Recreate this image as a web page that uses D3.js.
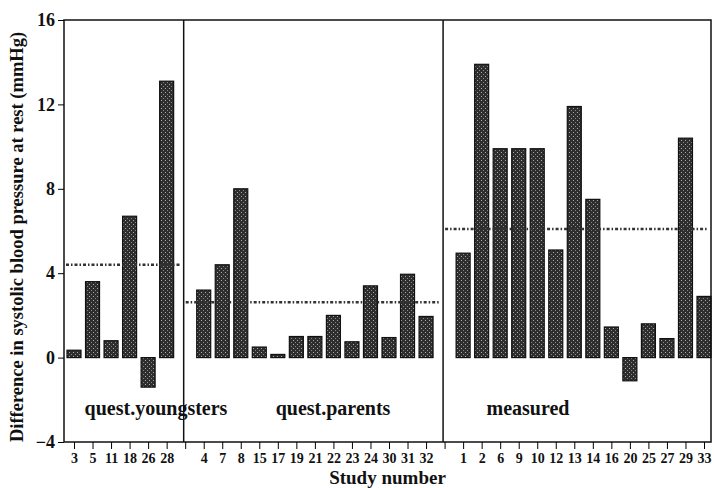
<!DOCTYPE html>
<html>
<head>
<meta charset="utf-8">
<script src="https://cdn.jsdelivr.net/npm/d3@7"></script>
<style>
  body { margin: 0; background: #fff; }
  svg text { font-family: "Liberation Serif", "DejaVu Serif", serif; font-weight: bold; fill: #111; }
</style>
</head>
<body>
<script>
// study numbers and differences, per group
var youngStudies = ["3", "5", "11", "18", "26", "28"];
var youngValues = [0.35, 3.6, 0.8, 6.7, -1.4, 13.1];
var parentStudies = ["4", "7", "8", "15", "17", "19", "21", "22", "23", "24", "30", "31", "32"];
var parentValues = [3.2, 4.4, 8.0, 0.5, 0.15, 1.0, 1.0, 2.0, 0.75, 3.4, 0.95, 3.95, 1.95];
var measuredStudies = ["1", "2", "6", "9", "10", "12", "13", "14", "16", "20", "25", "27", "29", "33"];
var measuredValues = [4.95, 13.9, 9.9, 9.9, 9.9, 5.1, 11.9, 7.5, 1.45, -1.1, 1.6, 0.9, 10.4, 2.9];
var groupNames = ["quest.youngsters", "quest.parents", "measured"];
var groupMeans = [4.4, 2.62, 6.1];
var yTicks = [-4, 0, 4, 8, 12, 16];

var width = 714, height = 488;
var plotLeft = 64, plotRight = 711, plotTop = 20, plotBottom = 442;

var groups = [
    {name: groupNames[0], studies: youngStudies, values: youngValues, mean: groupMeans[0]},
    {name: groupNames[1], studies: parentStudies, values: parentValues, mean: groupMeans[1]},
    {name: groupNames[2], studies: measuredStudies, values: measuredValues, mean: groupMeans[2]}
];

// one slot per study, with an empty slot between groups
var slots = [];
groups.forEach(function (g, i) {
    if (i > 0) slots.push("gap" + i);
    g.studies.forEach(function (s) { slots.push(s); });
});

var svg = d3.select("body").append("svg")
    .attr("width", width)
    .attr("height", height);

var defs = svg.append("defs");
var pat = defs.append("pattern")
    .attr("id", "stipple")
    .attr("width", 4).attr("height", 4)
    .attr("patternUnits", "userSpaceOnUse");
pat.append("rect").attr("width", 4).attr("height", 4).attr("fill", "#2e2e2e");
pat.append("rect").attr("x", 1).attr("y", 0).attr("width", 1).attr("height", 1).attr("fill", "#aaa");
pat.append("rect").attr("x", 3).attr("y", 2).attr("width", 1).attr("height", 1).attr("fill", "#888");

var xScale = d3.scalePoint()
    .domain(slots)
    .range([74, 704]);

var yScale = d3.scaleLinear()
    .domain([-4, 16])
    .range([plotBottom, plotTop]);

var barWidth = 14;

// bars
groups.forEach(function (g, gi) {
    var rows = g.studies.map(function (s, i) { return {study: s, value: g.values[i]}; });
    svg.selectAll(".bar" + gi)
        .data(rows)
        .enter()
        .append("rect")
        .attr("class", "bar" + gi)
        .attr("x", function (d) { return xScale(d.study) - barWidth / 2; })
        .attr("y", function (d) { return yScale(Math.max(0, d.value)); })
        .attr("width", barWidth)
        .attr("height", function (d) { return Math.abs(yScale(d.value) - yScale(0)); })
        .style("fill", "url(#stipple)")
        .style("stroke", "#111")
        .style("stroke-width", 1.2);
});

// panel edges (at the empty slots)
var edges = [plotLeft].concat(slots.filter(function (s) { return s.indexOf("gap") === 0; })
    .map(function (s) { return xScale(s) - 1.5; })).concat([plotRight]);

// group means as dash-dot lines
groups.forEach(function (g, gi) {
    svg.append("line")
        .attr("x1", edges[gi] + 2)
        .attr("x2", edges[gi + 1] - 3)
        .attr("y1", yScale(g.mean))
        .attr("y2", yScale(g.mean))
        .style("stroke", "#333")
        .style("stroke-width", 2.5)
        .style("stroke-dasharray", "3,2,1.5,2");
});

// panel labels
var labelX = [156, 333, 528];
groups.forEach(function (g, gi) {
    svg.append("text")
        .attr("x", labelX[gi])
        .attr("y", 415)
        .attr("text-anchor", "middle")
        .style("font-size", "20px")
        .text(g.name);
});

// frame and dividers
svg.append("rect")
    .attr("x", plotLeft).attr("y", plotTop)
    .attr("width", plotRight - plotLeft).attr("height", plotBottom - plotTop)
    .style("fill", "none").style("stroke", "#111").style("stroke-width", 1.5);
edges.slice(1, -1).forEach(function (x) {
    svg.append("line")
        .attr("x1", x).attr("x2", x)
        .attr("y1", plotTop).attr("y2", plotBottom)
        .style("stroke", "#111").style("stroke-width", 1.5);
});

// axes
var xAxis = svg.append("g")
    .attr("transform", "translate(0," + plotBottom + ")")
    .call(d3.axisBottom(xScale)
        .tickSize(7)
        .tickPadding(4)
        .tickFormat(function (d) { return d.indexOf("gap") === 0 ? "" : d; }));
xAxis.select(".domain").remove();
xAxis.selectAll("text").style("font-size", "14px").style("font-family", "Liberation Serif").style("font-weight", "bold");

var yAxis = svg.append("g")
    .attr("transform", "translate(" + plotLeft + ",0)")
    .call(d3.axisLeft(yScale).tickValues(yTicks).tickSize(6).tickPadding(3));
yAxis.select(".domain").remove();
yAxis.selectAll("text").style("font-size", "18px").style("font-family", "Liberation Serif").style("font-weight", "bold");

// axis titles
svg.append("text")
    .attr("x", (plotLeft + plotRight) / 2)
    .attr("y", 484)
    .attr("text-anchor", "middle")
    .style("font-size", "19px")
    .text("Study number");

svg.append("text")
    .attr("transform", "translate(23," + ((plotTop + plotBottom) / 2 + 6) + ") rotate(-90)")
    .attr("text-anchor", "middle")
    .style("font-size", "18.5px")
    .text("Difference in systolic blood pressure at rest (mmHg)");
</script>
</body>
</html>
